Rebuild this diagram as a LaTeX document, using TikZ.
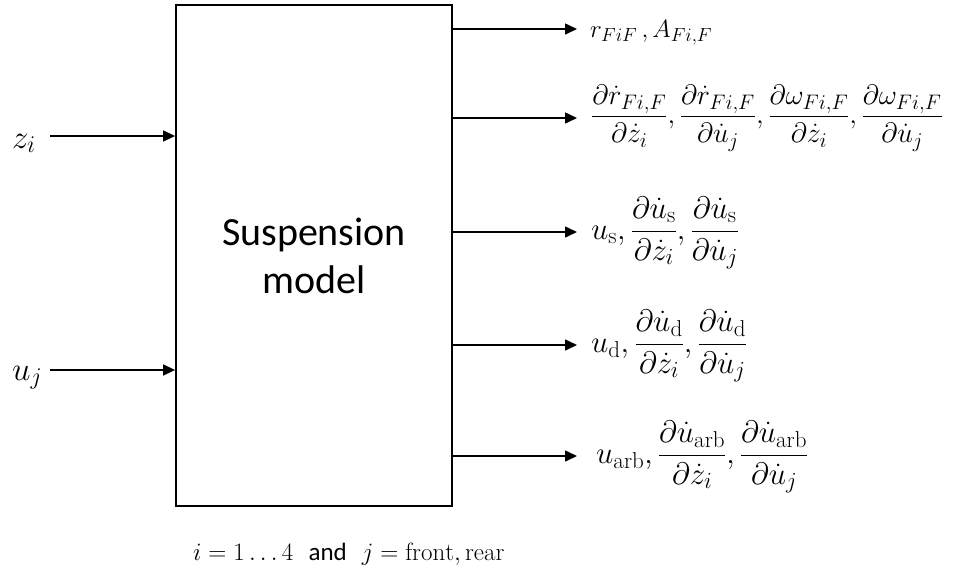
\RequirePackage{fix-cm}
\documentclass[tikz,border=0pt]{standalone}
\usepackage{amsmath}
\usepackage{fontspec}
\setsansfont{Carlito}
\usetikzlibrary{arrows.meta}
\DeclareMathSizes{28}{28}{21}{16}
\DeclareMathSizes{31}{31}{23}{17}
\DeclareMathSizes{25}{25}{19}{14}
\DeclareMathSizes{33}{33}{24}{18}

\tikzset{
  blockbox/.style={draw, line width=1.8pt, minimum width=276pt, minimum height=501pt, inner sep=0pt,
                   font=\sffamily\fontsize{40}{48}\selectfont, align=center},
  flow/.style={line width=1.5pt, -{Triangle[length=12pt,width=11pt]}},
  inlabel/.style={anchor=base west, inner sep=0pt, font=\fontsize{33}{38}\selectfont},
  outlabel/.style={anchor=west, inner sep=0pt, font=\fontsize{28}{32}\selectfont},
  biglabel/.style={outlabel, font=\fontsize{31}{36}\selectfont},
  notelabel/.style={anchor=base west, inner sep=0pt, font=\fontsize{25}{30}\selectfont}
}

\begin{document}
\begin{tikzpicture}[x=1pt,y=-1pt]
\useasboundingbox (0,0) rectangle (953,568);

% the block
\node[blockbox] (model) at (314,255.5) {Suspension\\model};

% inputs
\node[inlabel] (zi) at (12,148) {$z_i$};
\node[inlabel] (uj) at (12,380) {$u_j$};
\coordinate (zs) at (50,136);
\coordinate (us) at (50,370);
\draw[flow] (zs) -- (zs -| model.west);
\draw[flow] (us) -- (us -| model.west);

% output tips
\coordinate (o1) at (577,29);
\coordinate (o2) at (577,118);
\coordinate (o3) at (577,232);
\coordinate (o4) at (577,345);
\coordinate (o5) at (577,456);
\foreach \k in {1,...,5}{
  \draw[flow] (o\k -| model.east) -- (o\k);
}

% outputs
\node[anchor=base west, inner sep=0pt, font=\fontsize{25}{30}\selectfont] (l1) at (590,37)
  {$r_{FiF}\,,A_{Fi,F}$};
\node[outlabel] (l2) at (591,118)
  {$\dfrac{\partial\dot r_{Fi,F}}{\partial\dot z_i},\dfrac{\partial\dot r_{Fi,F}}{\partial\dot u_j},
    \dfrac{\partial\omega_{Fi,F}}{\partial\dot z_i},\dfrac{\partial\omega_{Fi,F}}{\partial\dot u_j}$};
\node[biglabel] (l3) at (591,233)
  {$u_{\mathrm{s}},\dfrac{\partial\dot u_{\mathrm{s}}}{\partial\dot z_i},\dfrac{\partial\dot u_{\mathrm{s}}}{\partial\dot u_j}$};
\node[biglabel] (l4) at (591,346)
  {$u_{\mathrm{d}},\dfrac{\partial\dot u_{\mathrm{d}}}{\partial\dot z_i},\dfrac{\partial\dot u_{\mathrm{d}}}{\partial\dot u_j}$};
\node[biglabel] (l5) at (596,457)
  {$u_{\mathrm{arb}},\dfrac{\partial\dot u_{\mathrm{arb}}}{\partial\dot z_i},\dfrac{\partial\dot u_{\mathrm{arb}}}{\partial\dot u_j}$};

% index ranges
\node[notelabel] (note) at (193,560)
  {$i=1\ldots4$\ \ \textsf{and}\ \ $j=\mathrm{front,rear}$};
\end{tikzpicture}
\end{document}
